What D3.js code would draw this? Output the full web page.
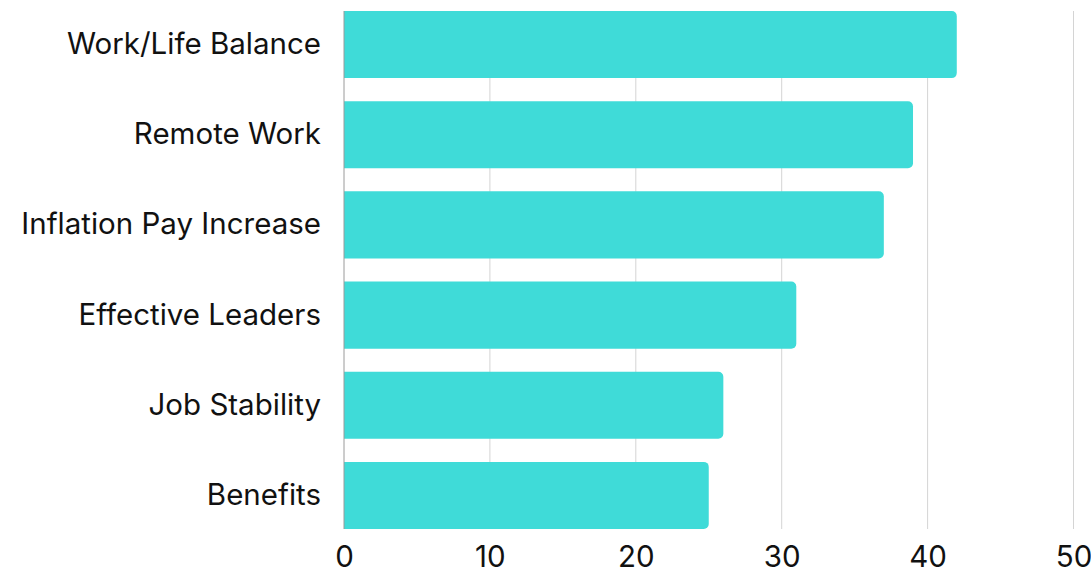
<!DOCTYPE html>
<html>
<head>
<meta charset="utf-8">
<script src="https://cdn.jsdelivr.net/npm/d3@7"></script>
<style>
  html, body { margin: 0; padding: 0; background: #fff; }
  svg { display: block; font-family: Inter, "Noto Sans", sans-serif; }
</style>
</head>
<body>
<svg id="chart" width="1091" height="571"></svg>
<script>
// Survey factors and their scores
const categories = ["Work/Life Balance", "Remote Work", "Inflation Pay Increase", "Effective Leaders", "Job Stability", "Benefits"];
const values = [42, 39, 37, 31, 26, 25];
const tickValues = [0, 10, 20, 30, 40, 50];

const svg = d3.select("#chart");
const plot = { left: 344, right: 1073.5, top: 11, bottom: 529 };

const x = d3.scaleLinear().domain([0, 50]).range([plot.left, plot.right]);
const y = d3.scaleBand().domain(categories).range([plot.top, plot.bottom])
  .paddingInner(0.256).paddingOuter(0);

// vertical gridlines
svg.append("g").selectAll("line")
  .data(tickValues.filter(d => d > 0))
  .join("line")
  .attr("x1", d => x(d)).attr("x2", d => x(d))
  .attr("y1", plot.top).attr("y2", plot.bottom)
  .attr("stroke", "#d4d4d4").attr("stroke-width", 1);

// bars, rounded on the value end
const r = 5;
svg.append("g").selectAll("path")
  .data(categories.map((c, i) => ({ c, v: values[i] })))
  .join("path")
  .attr("fill", "#3fdbd8")
  .attr("d", d => {
    const x0 = x(0), x1 = x(d.v), y0 = y(d.c), h = y.bandwidth();
    return `M${x0},${y0}H${x1 - r}A${r},${r} 0 0 1 ${x1},${y0 + r}` +
           `V${y0 + h - r}A${r},${r} 0 0 1 ${x1 - r},${y0 + h}H${x0}Z`;
  });

// baseline at zero
svg.append("line")
  .attr("x1", x(0)).attr("x2", x(0))
  .attr("y1", plot.top).attr("y2", plot.bottom)
  .attr("stroke", "#9a9a9a").attr("stroke-width", 1);

const fontSize = 29.5;

// category labels
const yAxis = d3.axisLeft(y).tickSize(0).tickPadding(23);
svg.append("g")
  .attr("transform", `translate(${plot.left},0)`)
  .call(yAxis)
  .call(g => g.select(".domain").remove())
  .call(g => g.selectAll("text").attr("font-size", fontSize).attr("fill", "#111")
    .attr("font-family", "Inter, 'Noto Sans', sans-serif"));

// value axis labels
const xAxis = d3.axisBottom(x).tickValues(tickValues).tickSize(0).tickPadding(17);
svg.append("g")
  .attr("transform", `translate(0,${plot.bottom})`)
  .call(xAxis)
  .call(g => g.select(".domain").remove())
  .call(g => g.selectAll("text").attr("font-size", fontSize).attr("fill", "#111")
    .attr("font-family", "Inter, 'Noto Sans', sans-serif"));
</script>
</body>
</html>
